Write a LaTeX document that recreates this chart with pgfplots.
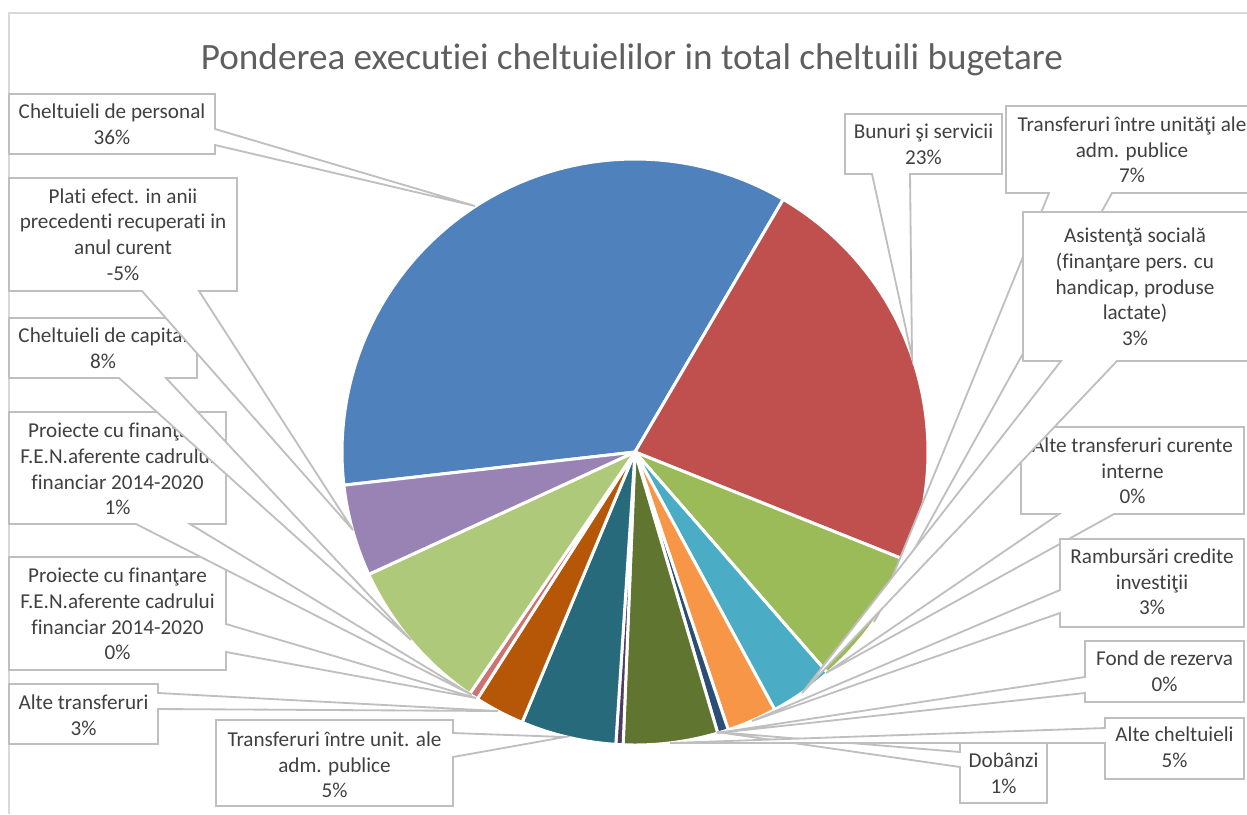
\documentclass[border=0pt]{standalone}
\usepackage{pgfplots}
\pgfplotsset{compat=1.18}
\usepackage{fontspec}
\setmainfont{Carlito}[RawFeature={-liga;-clig;-calt;-dlig}]

\definecolor{cBlue}{HTML}{4F81BD}
\definecolor{cRed}{HTML}{C0504D}
\definecolor{cGreen}{HTML}{9BBB59}
\definecolor{cAqua}{HTML}{4BACC6}
\definecolor{cOrange}{HTML}{F79646}
\definecolor{cNavy}{HTML}{2C4D75}
\definecolor{cOlive}{HTML}{5F7530}
\definecolor{cDPurple}{HTML}{4D3B62}
\definecolor{cTeal}{HTML}{276A7C}
\definecolor{cDOrange}{HTML}{B65708}
\definecolor{cSalmon}{HTML}{CD7371}
\definecolor{cLGreen}{HTML}{AFC97A}
\definecolor{cLPurple}{HTML}{9983B5}
\definecolor{boxc}{HTML}{BFBFBF}
\definecolor{borderc}{HTML}{D9D9D9}
\definecolor{lblc}{HTML}{404040}
\definecolor{titlec}{HTML}{5F5F5F}

% pie: centre (635,452), radius 293 (pixel units), first slice starts at 263.5 deg clockwise from north
\def\pietotal{100}
\def\startang{263.5}
\newcommand\slice[2]{%
  \pgfmathsetmacro\endang{\startang+#1*360/\pietotal}%
  \edef\doslice{\noexpand\addplot[fill=#2, draw=white, line width=1.8pt, line join=round,
     domain=\startang:\endang, samples=60]
     ({635+293*sin(x)}, {452-293*cos(x)}) -- (axis cs:635,452) -- cycle;}%
  \doslice
  \global\let\startang\endang}

\tikzset{
  callout/.style={fill=white, draw=boxc, line width=1.1pt, line join=miter},
  lbl/.style={align=center, text=lblc, inner sep=0pt, font=\fontsize{12.7}{15.4}\selectfont}
}

\begin{document}
\begin{tikzpicture}
\begin{axis}[name=ax, x=0.6pt, y=0.6pt, y dir=reverse, scale only axis,
  xmin=0, xmax=1247, ymin=0, ymax=814, hide axis, clip=false]

% chart border
\draw[borderc, line width=1pt] (9,814) -- (9,13) -- (1247,13);

% title
\node[anchor=base, text=titlec, inner sep=0pt, font=\fontsize{22.3}{26}\selectfont] at (632,69)
  {Ponderea executiei cheltuielilor in total cheltuili bugetare};

% slices (percent shares, clockwise)
\slice{35.25}{cBlue}
\slice{22.6}{cRed}
\slice{7.55}{cGreen}
\slice{3.5}{cAqua}
\slice{2.75}{cOrange}
\slice{0.6}{cNavy}
\slice{5.2}{cOlive}
\slice{0.4}{cDPurple}
\slice{5.25}{cTeal}
\slice{2.75}{cDOrange}
\slice{0.5}{cSalmon}
\slice{8.6}{cLGreen}
\slice{5.05}{cLPurple}

% callouts
\path[callout] (9,94) -- (215,94) -- (215,129) -- (475,206) -- (215,145) -- (215,154) -- (9,154) -- cycle;
\node[lbl] at (112,124.5) {Cheltuieli de personal\\36\%};

\path[callout] (845,114) -- (1002,114) -- (1002,174) -- (910,174) -- (912,357) -- (872,174) -- (845,174) -- cycle;
\node[lbl] at (923.5,144) {Bunuri şi servicii\\23\%};

\path[callout] (1006,106) -- (1258,106) -- (1258,193) -- (1112,193) -- (874,622) -- (1049,193) -- (1006,193) -- cycle;
\node[lbl] at (1132,150) {Transferuri între unităţi ale\\adm. publice\\7\%};

\path[callout] (1021,427) -- (1244,427) -- (1244,514) -- (1114,514) -- (826,673) -- (1059,514) -- (1021,514) -- cycle;
\node[lbl] at (1132.5,471) {Alte transferuri curente\\interne\\0\%};

\path[callout] (1023,212) -- (1250,212) -- (1250,361) -- (1117,361) -- (802,693) -- (1061,361) -- (1023,361) -- cycle;
\node[lbl] at (1135,287) {Asistenţă socială\\(finanţare pers. cu\\handicap, produse\\lactate)\\3\%};

\path[callout] (1060,539) -- (1244,539) -- (1244,627) -- (1060,627) -- (1060,613) -- (752,721) -- (1060,590) -- cycle;
\node[lbl] at (1152,582) {Rambursări credite\\investiţii\\3\%};

\path[callout] (960,743) -- (1047,743) -- (1047,803) -- (960,803) -- (960,767) -- (717,732) -- (960,752) -- cycle;
\node[lbl] at (1003.5,773) {Dobânzi\\1\%};

\path[callout] (1085,641) -- (1244,641) -- (1244,702) -- (1085,702) -- (1085,693) -- (717,733) -- (1085,677) -- cycle;
\node[lbl] at (1164.5,671) {Fond de rezerva\\0\%};

\path[callout] (1105,718) -- (1244,718) -- (1244,779) -- (1105,779) -- (1105,743) -- (670,743) -- (1105,728) -- cycle;
\node[lbl] at (1174.5,747) {Alte cheltuieli\\5\%};

\path[callout] (216,720) -- (453,720) -- (453,733) -- (565,737) -- (453,757) -- (453,806) -- (216,806) -- cycle;
\node[lbl] at (334.5,765) {Transferuri între unit. ale\\adm. publice\\5\%};

\path[callout] (9,684) -- (158,684) -- (158,693) -- (498,711) -- (158,709) -- (158,744) -- (9,744) -- cycle;
\node[lbl] at (83.5,715) {Alte transferuri\\3\%};

\path[callout] (9,557) -- (226,557) -- (226,624) -- (476,698) -- (226,652) -- (226,670) -- (9,670) -- cycle;
\node[lbl] at (117.5,614) {Proiecte cu finanţare\\F.E.N.aferente cadrului\\financiar 2014-2020\\0\%};

\path[callout] (9,412) -- (226,412) -- (226,524) -- (190,524) -- (472,695) -- (136,524) -- (9,524) -- cycle;
\node[lbl] at (117.5,469) {Proiecte cu finanţare\\F.E.N.aferente cadrului\\financiar 2014-2020\\1\%};

\path[callout] (9,318) -- (197,318) -- (197,378) -- (166,378) -- (411,640) -- (119,378) -- (9,378) -- cycle;
\node[lbl] at (103,348) {Cheltuieli de capital\\8\%};

\path[callout] (9,178) -- (237,178) -- (237,291) -- (199,291) -- (353,530) -- (142,291) -- (9,291) -- cycle;
\node[lbl] at (123,234.5) {Plati efect. in anii\\precedenti recuperati in\\anul curent\\-5\%};

\end{axis}
\pgfresetboundingbox
\path[use as bounding box] (ax.south west) rectangle (ax.north east);
\end{tikzpicture}
\end{document}
